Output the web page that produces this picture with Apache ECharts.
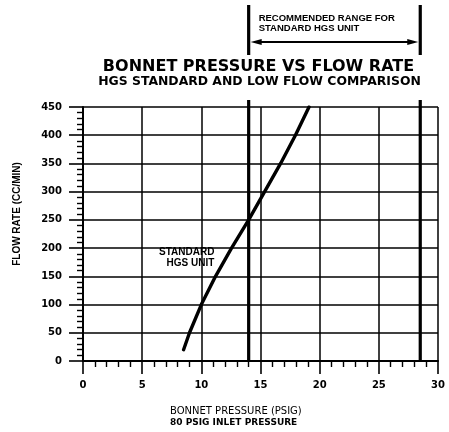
<!DOCTYPE html>
<html>
<head>
<meta charset="utf-8">
<script src="https://cdn.jsdelivr.net/npm/echarts@6/dist/echarts.min.js"></script>
<style>
html,body{margin:0;padding:0;background:#fff;}
#chart{width:449px;height:432px;}
</style>
</head>
<body>
<div id="chart"></div>
<script>
// ---- data ----
const pressure = [8.5, 9.0, 10.0, 11.2, 12.55, 14.0, 15.35, 16.7, 17.95, 19.1];
const flowRate = [20, 50, 100, 150, 200, 250, 300, 350, 400, 450];
const rangeBounds = [14, 28.5];
const curveLabelAt = [11.1, 183];

const titleText = 'BONNET PRESSURE VS FLOW RATE';
const subtitleText = 'HGS STANDARD AND LOW FLOW COMPARISON';
const xNameLines = ['BONNET PRESSURE (PSIG)', '80 PSIG INLET PRESSURE'];
const yName = 'FLOW RATE (CC/MIN)';
const rangeText = 'RECOMMENDED RANGE FOR\nSTANDARD HGS UNIT';
const curveText = 'STANDARD\nHGS UNIT';

const chart = echarts.init(document.getElementById('chart'), null, {renderer: 'canvas'});
const tickFont = 'DejaVu Sans';

const option = {
  backgroundColor: '#fff',
  animation: false,
  grid: {left: 83, right: 11, top: 107, bottom: 71, containLabel: false},
  xAxis: {
    type: 'value', min: 0, max: 30, interval: 5,
    axisLine: {show: true, lineStyle: {color: '#000', width: 2}},
    axisTick: {show: true, length: 13, lineStyle: {color: '#000', width: 1.6}},
    minorTick: {show: true, splitNumber: 5, length: 6, lineStyle: {color: '#000', width: 1.4}},
    axisLabel: {color: '#000', fontFamily: tickFont, fontWeight: 'bold', fontSize: 10, margin: 19},
    splitLine: {show: true, lineStyle: {color: '#000', width: 1.5}}
  },
  yAxis: {
    type: 'value', min: 0, max: 450, interval: 50,
    axisLine: {show: true, lineStyle: {color: '#000', width: 2}},
    axisTick: {show: true, length: 14, lineStyle: {color: '#000', width: 1.6}},
    minorTick: {show: true, splitNumber: 5, length: 6, lineStyle: {color: '#000', width: 1.4}},
    axisLabel: {color: '#000', fontFamily: tickFont, fontWeight: 'bold', fontSize: 10, margin: 21},
    splitLine: {show: true, lineStyle: {color: '#000', width: 1.7}}
  },
  graphic: [
    {type: 'text', x: 258.5, y: 67, z: 10,
      style: {text: titleText, fill: '#000', font: 'bold 16px "DejaVu Sans"', align: 'center', verticalAlign: 'middle'}},
    {type: 'text', x: 259.5, y: 82, z: 10,
      style: {text: subtitleText, fill: '#000', font: 'bold 12.4px "DejaVu Sans"', align: 'center', verticalAlign: 'middle'}},
    {type: 'text', x: 170, y: 411, z: 10,
      style: {text: xNameLines[0], fill: '#000', font: '10px "DejaVu Sans"', align: 'left', verticalAlign: 'middle'}},
    {type: 'text', x: 170, y: 423, z: 10,
      style: {text: xNameLines[1], fill: '#000', font: 'bold 9px "DejaVu Sans"', align: 'left', verticalAlign: 'middle'}},
    {type: 'text', x: 17.5, y: 214, rotation: Math.PI / 2, z: 10,
      style: {text: yName, fill: '#000', font: 'bold 10px "Liberation Sans"', align: 'center', verticalAlign: 'middle'}}
  ],
  series: [
    {
      type: 'line',
      data: pressure.map((p, i) => [p, flowRate[i]]),
      symbol: 'none',
      smooth: false,
      lineStyle: {color: '#000', width: 3.4, cap: 'round', join: 'round'},
      z: 5,
      markPoint: {
        symbol: 'circle', symbolSize: 1,
        itemStyle: {color: 'rgba(0,0,0,0)'},
        label: {show: true, position: 'inside', formatter: curveText, align: 'right', verticalAlign: 'middle',
          color: '#000', fontFamily: 'Liberation Sans', fontWeight: 'bold', fontSize: 10, lineHeight: 11},
        data: [{coord: curveLabelAt, value: 0}]
      }
    },
    {
      type: 'custom',
      clip: false,
      z: 6,
      data: [rangeBounds],
      renderItem: function (params, api) {
        const a = api.coord([api.value(0), 0]);
        const b = api.coord([api.value(1), 0]);
        const topY = 5, arrowY = 42, bracketBottom = 55, resumeY = 100;
        const x1 = a[0], x2 = b[0], bottom = a[1];
        const ls = {stroke: '#000', lineWidth: 3.2};
        return {
          type: 'group',
          children: [
            {type: 'line', shape: {x1: x1, y1: topY, x2: x1, y2: bracketBottom}, style: ls},
            {type: 'line', shape: {x1: x2, y1: topY, x2: x2, y2: bracketBottom}, style: ls},
            {type: 'line', shape: {x1: x1, y1: resumeY, x2: x1, y2: bottom}, style: ls},
            {type: 'line', shape: {x1: x2, y1: resumeY, x2: x2, y2: bottom}, style: ls},
            {type: 'line', shape: {x1: x1 + 8, y1: arrowY, x2: x2 - 8, y2: arrowY}, style: {stroke: '#000', lineWidth: 2}},
            {type: 'polygon', shape: {points: [[x1 + 2, arrowY], [x1 + 13, arrowY - 3], [x1 + 13, arrowY + 3]]}, style: {fill: '#000'}},
            {type: 'polygon', shape: {points: [[x2 - 2, arrowY], [x2 - 13, arrowY - 3], [x2 - 13, arrowY + 3]]}, style: {fill: '#000'}},
            {type: 'text', x: x1 + 10, y: 13, style: {text: rangeText, fill: '#000', font: 'bold 9.5px "Liberation Sans"', lineHeight: 10, align: 'left', verticalAlign: 'top'}}
          ]
        };
      }
    }
  ]
};
chart.setOption(option);
</script>
</body>
</html>
